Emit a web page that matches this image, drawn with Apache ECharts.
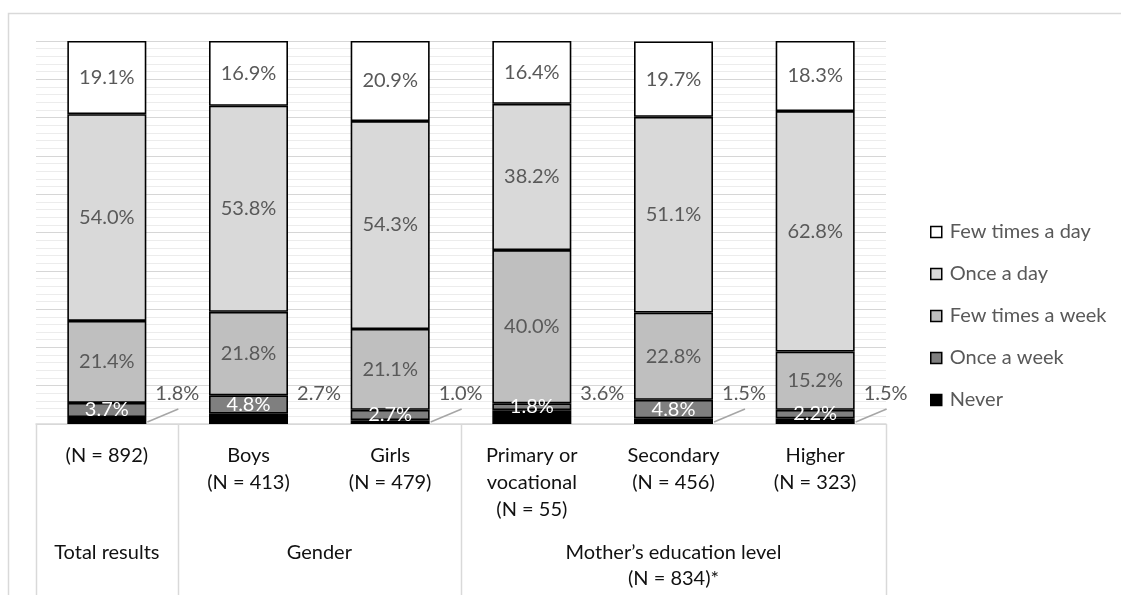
<!DOCTYPE html>
<html>
<head>
<meta charset="utf-8">
<script src="https://cdn.jsdelivr.net/npm/echarts@6/dist/echarts.min.js"></script>
<style>
  html, body { margin: 0; padding: 0; background: #fff; }
  #chart { width: 1121px; height: 601px; }
</style>
</head>
<body>
<div id="chart"></div>
<script>
// Inner category labels (one per bar)
const categories = [
  '(N = 892)',
  'Boys\n(N = 413)',
  'Girls\n(N = 479)',
  'Primary or\nvocational\n(N = 55)',
  'Secondary\n(N = 456)',
  'Higher\n(N = 323)'
];
// Outer grouping row and how many bars each group spans
const groupLabels = ['Total results', 'Gender', 'Mother’s education level\n(N = 834)*'];
const groupSizes = [1, 2, 3];

// Shares in percent, stacked bottom to top
const never = [1.8, 2.7, 1.0, 3.6, 1.5, 1.5];
const onceWeek = [3.7, 4.8, 2.7, 1.8, 4.8, 2.2];
const fewWeek = [21.4, 21.8, 21.1, 40.0, 22.8, 15.2];
const onceDay = [54.0, 53.8, 54.3, 38.2, 51.1, 62.8];
const fewDay = [19.1, 16.9, 20.9, 16.4, 19.7, 18.3];

const seriesNames = ['Never', 'Once a week', 'Few times a week', 'Once a day', 'Few times a day'];
const legendOrder = ['Few times a day', 'Once a day', 'Few times a week', 'Once a week', 'Never'];

const FONT = 'Lato';
const BAR_W = 79;
const pct = p => p.value.toFixed(1) + '%';

const chart = echarts.init(document.getElementById('chart'), null, { renderer: 'canvas' });

function barSeries(name, values, fill, labelColor, labelOpts) {
  return {
    name: name,
    type: 'bar',
    stack: 'share',
    barWidth: BAR_W,
    data: values,
    itemStyle: { color: fill, borderColor: '#000', borderWidth: 1.6 },
    label: Object.assign({
      show: true,
      position: 'inside',
      formatter: pct,
      color: labelColor,
      fontSize: 20,
      fontFamily: FONT
    }, labelOpts || {})
  };
}

const option = {
  animation: false,
  textStyle: { fontFamily: FONT },
  grid: { left: 36, right: 235, top: 41, bottom: 177 },
  xAxis: {
    type: 'category',
    data: categories,
    axisLine: { lineStyle: { color: '#d9d9d9', width: 1.5 } },
    axisTick: { show: false },
    axisLabel: {
      interval: 0,
      margin: 18,
      fontSize: 20,
      lineHeight: 27,
      color: '#111',
      fontFamily: FONT
    }
  },
  yAxis: {
    type: 'value',
    min: 0,
    max: 100,
    interval: 10,
    axisLabel: { show: false },
    axisLine: { show: false },
    axisTick: { show: false },
    splitLine: { lineStyle: { color: '#d6d6d6', width: 1 } },
    minorTick: { show: false, splitNumber: 5 },
    minorSplitLine: { show: true, lineStyle: { color: '#ececec', width: 1 } }
  },
  legend: {
    data: legendOrder,
    orient: 'vertical',
    left: 925,
    top: 217,
    itemWidth: 11,
    itemHeight: 11,
    itemGap: 22,
    icon: 'rect',
    itemStyle: { borderColor: '#000', borderWidth: 1.5 },
    textStyle: { fontSize: 20, lineHeight: 20, color: '#595959', fontFamily: FONT, padding: [0, 0, 0, 3] }
  },
  series: [
    barSeries(seriesNames[0], never, '#000000', '#595959', {
      position: ['100%', '100%'],
      offset: [31, -30],
      align: 'center',
      verticalAlign: 'middle'
    }),
    barSeries(seriesNames[1], onceWeek, '#7f7f7f', '#ffffff'),
    barSeries(seriesNames[2], fewWeek, '#bfbfbf', '#595959'),
    barSeries(seriesNames[3], onceDay, '#d9d9d9', '#595959'),
    barSeries(seriesNames[4], fewDay, '#ffffff', '#595959'),
    {
      // leader lines for the thinnest "Never" slices, whose labels sit beside the bar
      name: 'never-leaders',
      type: 'custom',
      silent: true,
      z: 3,
      encode: { x: 0, y: 1 },
      data: never.map((v, i) => [i, v]),
      renderItem: function (params, api) {
        if (api.value(1) >= 2) return null;
        const base = api.coord([api.value(0), 0]);
        const edge = base[0] + BAR_W / 2 + 1;
        return {
          type: 'line',
          shape: { x1: edge, y1: base[1] - 2, x2: edge + 31, y2: base[1] - 15 },
          style: { stroke: '#a6a6a6', lineWidth: 1.5 }
        };
      }
    }
  ]
};

chart.setOption(option);

// Grouping row beneath the category labels, placed from the axis scale
const centers = categories.map((_, i) => chart.convertToPixel({ xAxisIndex: 0 }, i));
const band = centers[1] - centers[0];
const yBase = chart.convertToPixel({ yAxisIndex: 0 }, 0);
const TABLE_BOTTOM = 595;

const graphics = [];
let start = 0;
groupSizes.forEach((size, g) => {
  const left = centers[start] - band / 2;
  const right = centers[start + size - 1] + band / 2;
  graphics.push({
    type: 'line',
    silent: true,
    shape: { x1: Math.round(left) + 0.5, y1: yBase, x2: Math.round(left) + 0.5, y2: TABLE_BOTTOM },
    style: { stroke: '#d9d9d9', lineWidth: 1.5 }
  });
  if (g === groupSizes.length - 1) {
    graphics.push({
      type: 'line',
      silent: true,
      shape: { x1: Math.round(right) + 0.5, y1: yBase, x2: Math.round(right) + 0.5, y2: TABLE_BOTTOM },
      style: { stroke: '#d9d9d9', lineWidth: 1.5 }
    });
  }
  graphics.push({
    type: 'text',
    silent: true,
    x: (left + right) / 2,
    y: 540,
    style: {
      text: groupLabels[g],
      align: 'center',
      verticalAlign: 'top',
      font: '20px ' + FONT,
      lineHeight: 26,
      fill: '#111'
    }
  });
  start += size;
});

// Chart frame (top and left edges fall inside the canvas)
graphics.push({
  type: 'polyline',
  silent: true,
  shape: { points: [[8.5, TABLE_BOTTOM], [8.5, 13.5], [1121, 13.5]] },
  style: { stroke: '#d9d9d9', lineWidth: 1.5, fill: null }
});

chart.setOption({ graphic: graphics });
</script>
</body>
</html>
